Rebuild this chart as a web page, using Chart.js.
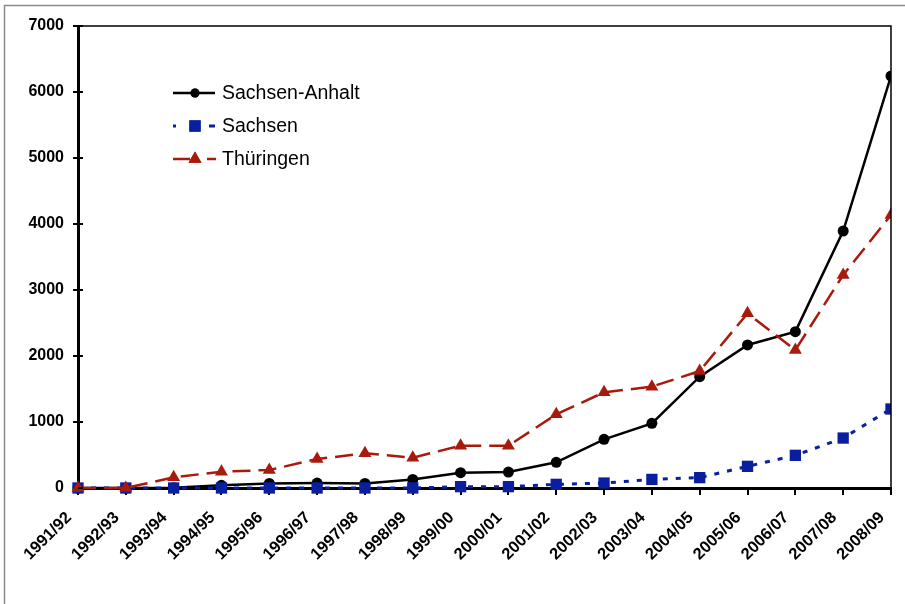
<!DOCTYPE html>
<html>
<head>
<meta charset="utf-8">
<script src="https://cdn.jsdelivr.net/npm/chart.js@4/dist/chart.umd.min.js"></script>
<style>
  html, body { margin: 0; padding: 0; background: #fff; }
  #wrap { position: relative; width: 905px; height: 604px; }
</style>
</head>
<body>
<div id="wrap"><canvas id="chart" width="905" height="604"></canvas></div>
<script>
const years = ['1991/92','1992/93','1993/94','1994/95','1995/96','1996/97','1997/98','1998/99','1999/00',
  '2000/01','2001/02','2002/03','2003/04','2004/05','2005/06','2006/07','2007/08','2008/09'];
const sachsenAnhalt = [0, 0, 5, 40, 70, 75, 70, 130, 232, 242, 389, 738, 980, 1687, 2167, 2369, 3894, 6242];
const sachsen = [0, 0, 0, 0, 0, 0, 0, 0, 20, 20, 55, 75, 130, 157, 328, 495, 757, 1197];
const thueringen = [0, 0, 162, 247, 273, 439, 525, 460, 641, 641, 1116, 1450, 1535, 1773, 2646, 2090, 3227, 4136];

const FONT = 'Liberation Sans, Arial, sans-serif';

// legend line pieces (relative to legend x), like the Excel legend keys
const legendKeys = [
    { segs: [[0, 42]], radius: 4.5 },
    { segs: [[0, 3], [36, 42]], radius: 8 },
    { segs: [[0, 17], [34, 43]], radius: 7.5 }
];

// frame, plot borders, inner ticks, legend
const extras = {
    id: 'extras',
    afterDraw(chart) {
        const ctx = chart.ctx;
        const a = chart.chartArea;
        const y = chart.scales.y;
        ctx.save();
        // outer grey frame
        ctx.strokeStyle = '#8a8a8a';
        ctx.lineWidth = 1.5;
        ctx.strokeRect(4.5, 5.5, 920, 620);
        // top + right border of plot
        ctx.strokeStyle = '#000';
        ctx.lineWidth = 1.5;
        ctx.beginPath();
        ctx.moveTo(a.left, a.top);
        ctx.lineTo(a.right, a.top);
        ctx.lineTo(a.right, a.bottom);
        ctx.stroke();
        // inner y ticks
        ctx.lineWidth = 2;
        y.ticks.forEach(t => {
            const py = y.getPixelForValue(t.value);
            ctx.beginPath();
            ctx.moveTo(a.left, py);
            ctx.lineTo(a.left + 5, py);
            ctx.stroke();
        });
        // legend
        const lx = a.left + 95, ly = a.top + 67, gap = 33;
        chart.data.datasets.forEach((ds, i) => {
            const yy = ly + i * gap;
            const key = legendKeys[i];
            ctx.strokeStyle = ds.borderColor;
            ctx.lineWidth = ds.borderWidth;
            key.segs.forEach(s => {
                ctx.beginPath();
                ctx.moveTo(lx + s[0], yy);
                ctx.lineTo(lx + s[1], yy);
                ctx.stroke();
            });
            ctx.fillStyle = ds.pointBackgroundColor;
            Chart.helpers.drawPoint(ctx, {pointStyle: ds.pointStyle, radius: key.radius, rotation: 0, borderWidth: 0}, lx + 22, yy);
            ctx.fill();
            ctx.fillStyle = '#000';
            ctx.font = '19.5px ' + FONT;
            ctx.textBaseline = 'middle';
            ctx.fillText(ds.label, lx + 49, yy + 1);
        });
        ctx.restore();
    }
};

const clipRight = { left: 20, top: 20, right: 0, bottom: 20 };

new Chart(document.getElementById('chart'), {
    type: 'line',
    data: {
        labels: years,
        datasets: [
            {
                label: 'Sachsen-Anhalt',
                data: sachsenAnhalt,
                order: 3,
                clip: clipRight,
                borderColor: '#000000',
                borderWidth: 2.5,
                pointStyle: 'circle',
                pointRadius: 5.5,
                pointBackgroundColor: '#000000',
                pointBorderWidth: 0,
                tension: 0
            },
            {
                label: 'Sachsen',
                data: sachsen,
                order: 2,
                clip: clipRight,
                borderColor: '#0a1fa0',
                borderWidth: 3,
                borderDash: [5, 8],
                pointStyle: 'rect',
                pointRadius: 8,
                pointBackgroundColor: '#0a1fa0',
                pointBorderWidth: 0,
                tension: 0
            },
            {
                label: 'Thüringen',
                data: thueringen,
                order: 1,
                clip: clipRight,
                borderColor: '#a81a0c',
                borderWidth: 2.5,
                borderDash: [18, 8],
                pointStyle: 'triangle',
                pointRadius: 7.5,
                pointBackgroundColor: '#a81a0c',
                pointBorderWidth: 0,
                tension: 0
            }
        ]
    },
    options: {
        responsive: false,
        animation: false,
        layout: { padding: { top: 26, right: 14, left: 0, bottom: 0 } },
        plugins: { legend: { display: false }, tooltip: { enabled: false } },
        scales: {
            x: {
                offset: false,
                grid: { drawOnChartArea: false, color: '#000', lineWidth: 2, tickLength: 7 },
                border: { color: '#000', width: 3 },
                ticks: {
                    color: '#000', font: { family: FONT, size: 16.5, weight: 'bold' },
                    minRotation: 45, maxRotation: 45, padding: 13, labelOffset: -9, autoSkip: false
                },
                afterFit(scale) {
                    scale.height = 116;
                    scale.paddingLeft = 0;
                    scale.paddingRight = 0;
                }
            },
            y: {
                min: 0, max: 7000,
                grid: { drawOnChartArea: false, color: '#000', lineWidth: 2, tickLength: 5 },
                border: { color: '#000', width: 3 },
                ticks: {
                    stepSize: 1000, color: '#000', padding: 9,
                    font: { family: FONT, size: 16, weight: 'bold' },
                    callback: v => String(v)
                },
                afterFit(scale) { scale.width = 78; }
            }
        }
    },
    plugins: [extras]
});
</script>
</body>
</html>
